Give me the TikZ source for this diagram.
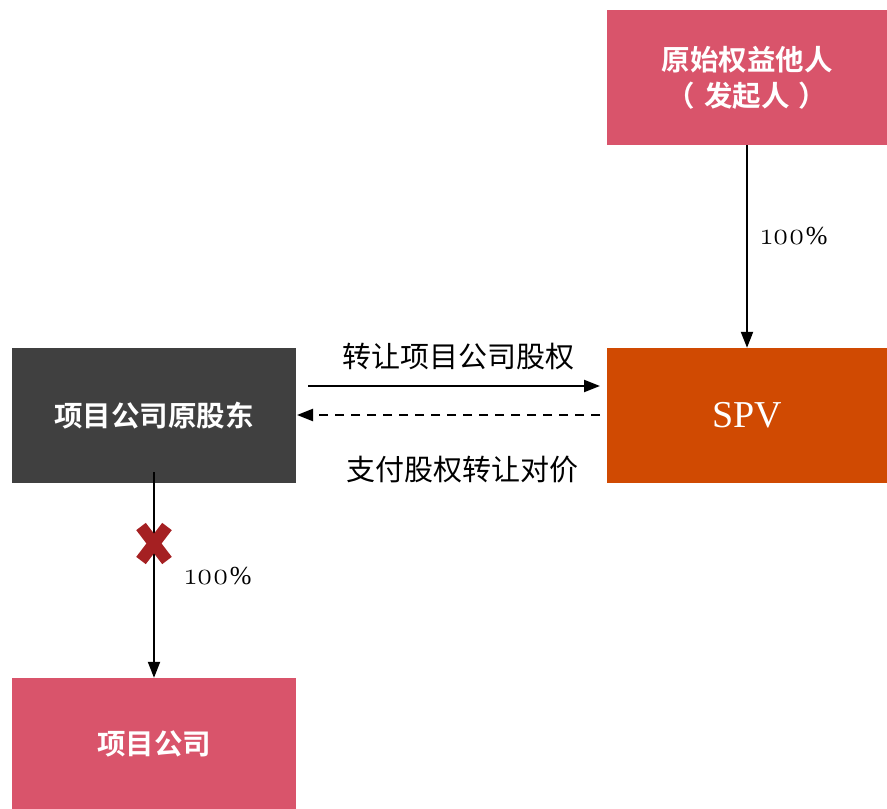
\documentclass[tikz,border=0pt]{standalone}
\usepackage{fontspec}
\setmainfont{Liberation Serif}
\newfontfamily\cjk{Noto Sans CJK SC}
\newfontfamily\cjkb{Noto Sans CJK SC Bold}
\newfontfamily\oldnum{Latin Modern Roman}[Numbers=OldStyle]
\usetikzlibrary{arrows.meta}
\definecolor{pinkbox}{HTML}{D9546B}
\definecolor{darkbox}{HTML}{404040}
\definecolor{orangebox}{HTML}{D04A02}
\definecolor{xred}{HTML}{A52022}
\newcommand\pctval{{\oldnum\fontsize{31}{32}\selectfont 100}\kern1pt\%}
\begin{document}
\begin{tikzpicture}[x=1pt,y=-1pt,
  box/.style={draw=none,minimum width=280pt,minimum height=135pt,inner sep=0pt,text=white,align=center},
  boxtext/.style={font=\cjkb\fontsize{28.5}{36}\selectfont},
  lbl/.style={font=\cjk\fontsize{29}{32}\selectfont,inner sep=0pt},
  pct/.style={font=\fontsize{26}{30}\selectfont,inner sep=0pt},
  arr/.style={line width=2.2pt,-{Triangle[length=16pt,width=12pt]}}]
\useasboundingbox (0,0) rectangle (887,809);
\node[box,boxtext,fill=pinkbox] (orig) at (747,77.5) {原始权益他人\\（\hspace{9pt}发起人\hspace{9pt}）};
\node[box,fill=orangebox,font=\fontsize{38}{40}\selectfont] (spv) at (747,415.5) {SPV};
\node[box,boxtext,fill=darkbox,minimum width=284pt] (holder) at (154,415.5) {项目公司原股东};
\node[box,boxtext,fill=pinkbox,minimum width=284pt,minimum height=131pt] (proj) at (154,743.5) {项目公司};
\coordinate (a1) at (308,386);
\coordinate (a2) at (600,386);
\coordinate (b1) at (600,415);
\coordinate (b2) at (297,415);
\draw[arr] (orig.south) -- (spv.north);
\draw[arr] (a1) -- (a2);
\draw[arr,dashed,dash pattern=on 9pt off 7pt] (b1) -- (b2);
\coordinate (h1) at (154,472);
\draw[arr] (h1) -- (proj.north);
\node[lbl] (l1) at (458,357) {转让项目公司股权};
\node[lbl] (l2) at (462,470) {支付股权转让对价};
\node[pct,anchor=base west] (p1) at (761,244) {\pctval};
\node[pct,anchor=base west] (p2) at (185,584) {\pctval};
\coordinate (xc) at (154,543.5);
\draw[xred,line width=12pt] ([shift={(-13,-17)}]xc) -- ([shift={(13,17)}]xc);
\draw[xred,line width=12pt] ([shift={(13,-17)}]xc) -- ([shift={(-13,17)}]xc);
\end{tikzpicture}
\end{document}
